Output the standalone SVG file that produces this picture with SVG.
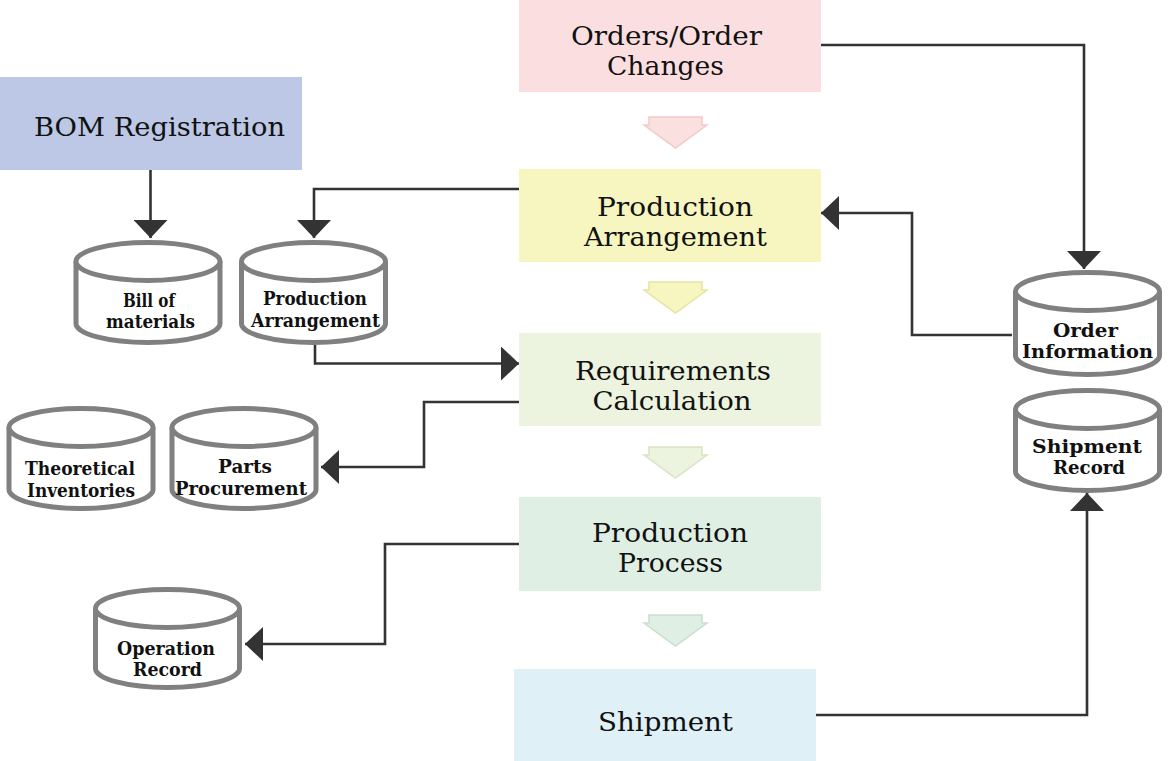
<svg xmlns="http://www.w3.org/2000/svg" width="1170" height="761" viewBox="0 0 1170 761">
<style>
.box{stroke:none}
.lbl{font-family:"DejaVu Serif","Liberation Serif",serif;font-size:25.5px;fill:#111;text-anchor:middle}
.cl{font-family:"DejaVu Serif","Liberation Serif",serif;font-size:17.8px;font-weight:bold;fill:#111;text-anchor:middle}
.cyl{fill:#fff;stroke:#808080;stroke-width:5}
.conn{fill:none;stroke:#333;stroke-width:2.6}
.flow{stroke-width:1.5}
</style>
<defs>
<marker id="ah" viewBox="0 0 18 34" refX="18" refY="17" markerWidth="18" markerHeight="34" markerUnits="userSpaceOnUse" orient="auto">
<path d="M0 0 L18 17 L0 34 Z" fill="#333"/>
</marker>
</defs>
<rect width="1170" height="761" fill="#fff"/>

<g id="orders">
<rect class="box" x="519" y="0" width="302" height="92" fill="#fbdfe0"/>
<text class="lbl" x="666.5" y="45" textLength="191" lengthAdjust="spacingAndGlyphs">Orders/Order</text>
<text class="lbl" x="665.5" y="75" textLength="117" lengthAdjust="spacingAndGlyphs">Changes</text>
</g>
<g id="production-arrangement">
<rect class="box" x="519" y="169" width="302" height="93" fill="#f7f6c0"/>
<text class="lbl" x="675" y="216" textLength="156" lengthAdjust="spacingAndGlyphs">Production</text>
<text class="lbl" x="675.5" y="246" textLength="183" lengthAdjust="spacingAndGlyphs">Arrangement</text>
</g>
<g id="requirements-calculation">
<rect class="box" x="519" y="333" width="302" height="93" fill="#ecf3de"/>
<text class="lbl" x="673" y="380" textLength="196" lengthAdjust="spacingAndGlyphs">Requirements</text>
<text class="lbl" x="672" y="410" textLength="159" lengthAdjust="spacingAndGlyphs">Calculation</text>
</g>
<g id="production-process">
<rect class="box" x="519" y="497" width="302" height="94" fill="#e0efe4"/>
<text class="lbl" x="670" y="542" textLength="156" lengthAdjust="spacingAndGlyphs">Production</text>
<text class="lbl" x="670.5" y="572" textLength="105" lengthAdjust="spacingAndGlyphs">Process</text>
</g>
<g id="shipment">
<rect class="box" x="514" y="669" width="302" height="92" fill="#dff0f7"/>
<text class="lbl" x="665.5" y="731" textLength="135" lengthAdjust="spacingAndGlyphs">Shipment</text>
</g>
<g id="bom-registration">
<rect class="box" x="0" y="77" width="302" height="93" fill="#bcc8e6"/>
<text class="lbl" x="159.5" y="136" textLength="251" lengthAdjust="spacingAndGlyphs">BOM Registration</text>
</g>

<g id="flow-arrows">
<path class="flow" d="M649 117 H702 V125 H707 L675.5 148 L644 125 H649 Z" fill="#fbe0e0" stroke="#f3c9ca"/>
<path class="flow" d="M649 282 H702 V290 H707 L675.5 313 L644 290 H649 Z" fill="#f7f6c0" stroke="#e6e4a2"/>
<path class="flow" d="M649 447 H702 V455 H707 L675.5 478 L644 455 H649 Z" fill="#ecf3de" stroke="#d8e5c2"/>
<path class="flow" d="M649 615 H702 V623 H707 L675.5 646 L644 623 H649 Z" fill="#e0efe4" stroke="#c6e0cd"/>
</g>

<g id="cyl-bill-of-materials">
<path class="cyl" d="M76 261.5 V323.5 A72 19 0 0 0 220 323.5 V261.5"/>
<ellipse class="cyl" cx="148" cy="261.5" rx="72" ry="19"/>
<text class="cl" x="149" y="306.5" textLength="52" lengthAdjust="spacingAndGlyphs">Bill of</text>
<text class="cl" x="150.5" y="328" textLength="89" lengthAdjust="spacingAndGlyphs">materials</text>
</g>
<g id="cyl-production-arrangement">
<path class="cyl" d="M241.5 261.5 V323.5 A72 19 0 0 0 385.5 323.5 V261.5"/>
<ellipse class="cyl" cx="313.5" cy="261.5" rx="72" ry="19"/>
<text class="cl" x="315" y="305" textLength="104" lengthAdjust="spacingAndGlyphs">Production</text>
<text class="cl" x="315.5" y="327" textLength="129" lengthAdjust="spacingAndGlyphs">Arrangement</text>
</g>
<g id="cyl-theoretical-inventories">
<path class="cyl" d="M9 427.5 V489.5 A72 19 0 0 0 153 489.5 V427.5"/>
<ellipse class="cyl" cx="81" cy="427.5" rx="72" ry="19"/>
<text class="cl" x="80" y="475" textLength="110" lengthAdjust="spacingAndGlyphs">Theoretical</text>
<text class="cl" x="81" y="497" textLength="108" lengthAdjust="spacingAndGlyphs">Inventories</text>
</g>
<g id="cyl-parts-procurement">
<path class="cyl" d="M172 427.5 V489.5 A72 19 0 0 0 316 489.5 V427.5"/>
<ellipse class="cyl" cx="244" cy="427.5" rx="72" ry="19"/>
<text class="cl" x="245" y="473" textLength="54" lengthAdjust="spacingAndGlyphs">Parts</text>
<text class="cl" x="241" y="495" textLength="132" lengthAdjust="spacingAndGlyphs">Procurement</text>
</g>
<g id="cyl-order-information">
<path class="cyl" d="M1015.5 291.5 V355.5 A72 19 0 0 0 1159.5 355.5 V291.5"/>
<ellipse class="cyl" cx="1087.5" cy="291.5" rx="72" ry="19"/>
<text class="cl" x="1085.5" y="336.5" textLength="65" lengthAdjust="spacingAndGlyphs">Order</text>
<text class="cl" x="1087.5" y="358" textLength="131" lengthAdjust="spacingAndGlyphs">Information</text>
</g>
<g id="cyl-shipment-record">
<path class="cyl" d="M1015.5 409.5 V471.5 A72 19 0 0 0 1159.5 471.5 V409.5"/>
<ellipse class="cyl" cx="1087.5" cy="409.5" rx="72" ry="19"/>
<text class="cl" x="1087" y="452.5" textLength="110" lengthAdjust="spacingAndGlyphs">Shipment</text>
<text class="cl" x="1089" y="474" textLength="72" lengthAdjust="spacingAndGlyphs">Record</text>
</g>
<g id="cyl-operation-record">
<path class="cyl" d="M95.5 608.5 V668.5 A72 19 0 0 0 239.5 668.5 V608.5"/>
<ellipse class="cyl" cx="167.5" cy="608.5" rx="72" ry="19"/>
<text class="cl" x="166" y="654.5" textLength="98" lengthAdjust="spacingAndGlyphs">Operation</text>
<text class="cl" x="167.5" y="676" textLength="69" lengthAdjust="spacingAndGlyphs">Record</text>
</g>

<g id="connectors">
<path class="conn" d="M150.5 170 V238" marker-end="url(#ah)"/>
<path class="conn" d="M519 189 H314 V238" marker-end="url(#ah)"/>
<path class="conn" d="M315 345 V363.5 H519" marker-end="url(#ah)"/>
<path class="conn" d="M519 402 H424 V467 H321" marker-end="url(#ah)"/>
<path class="conn" d="M519 544 H385 V644 H245" marker-end="url(#ah)"/>
<path class="conn" d="M821 45 H1084 V269" marker-end="url(#ah)"/>
<path class="conn" d="M1012 335 H912 V213 H821" marker-end="url(#ah)"/>
<path class="conn" d="M816 715 H1087 V493" marker-end="url(#ah)"/>
</g>
</svg>
